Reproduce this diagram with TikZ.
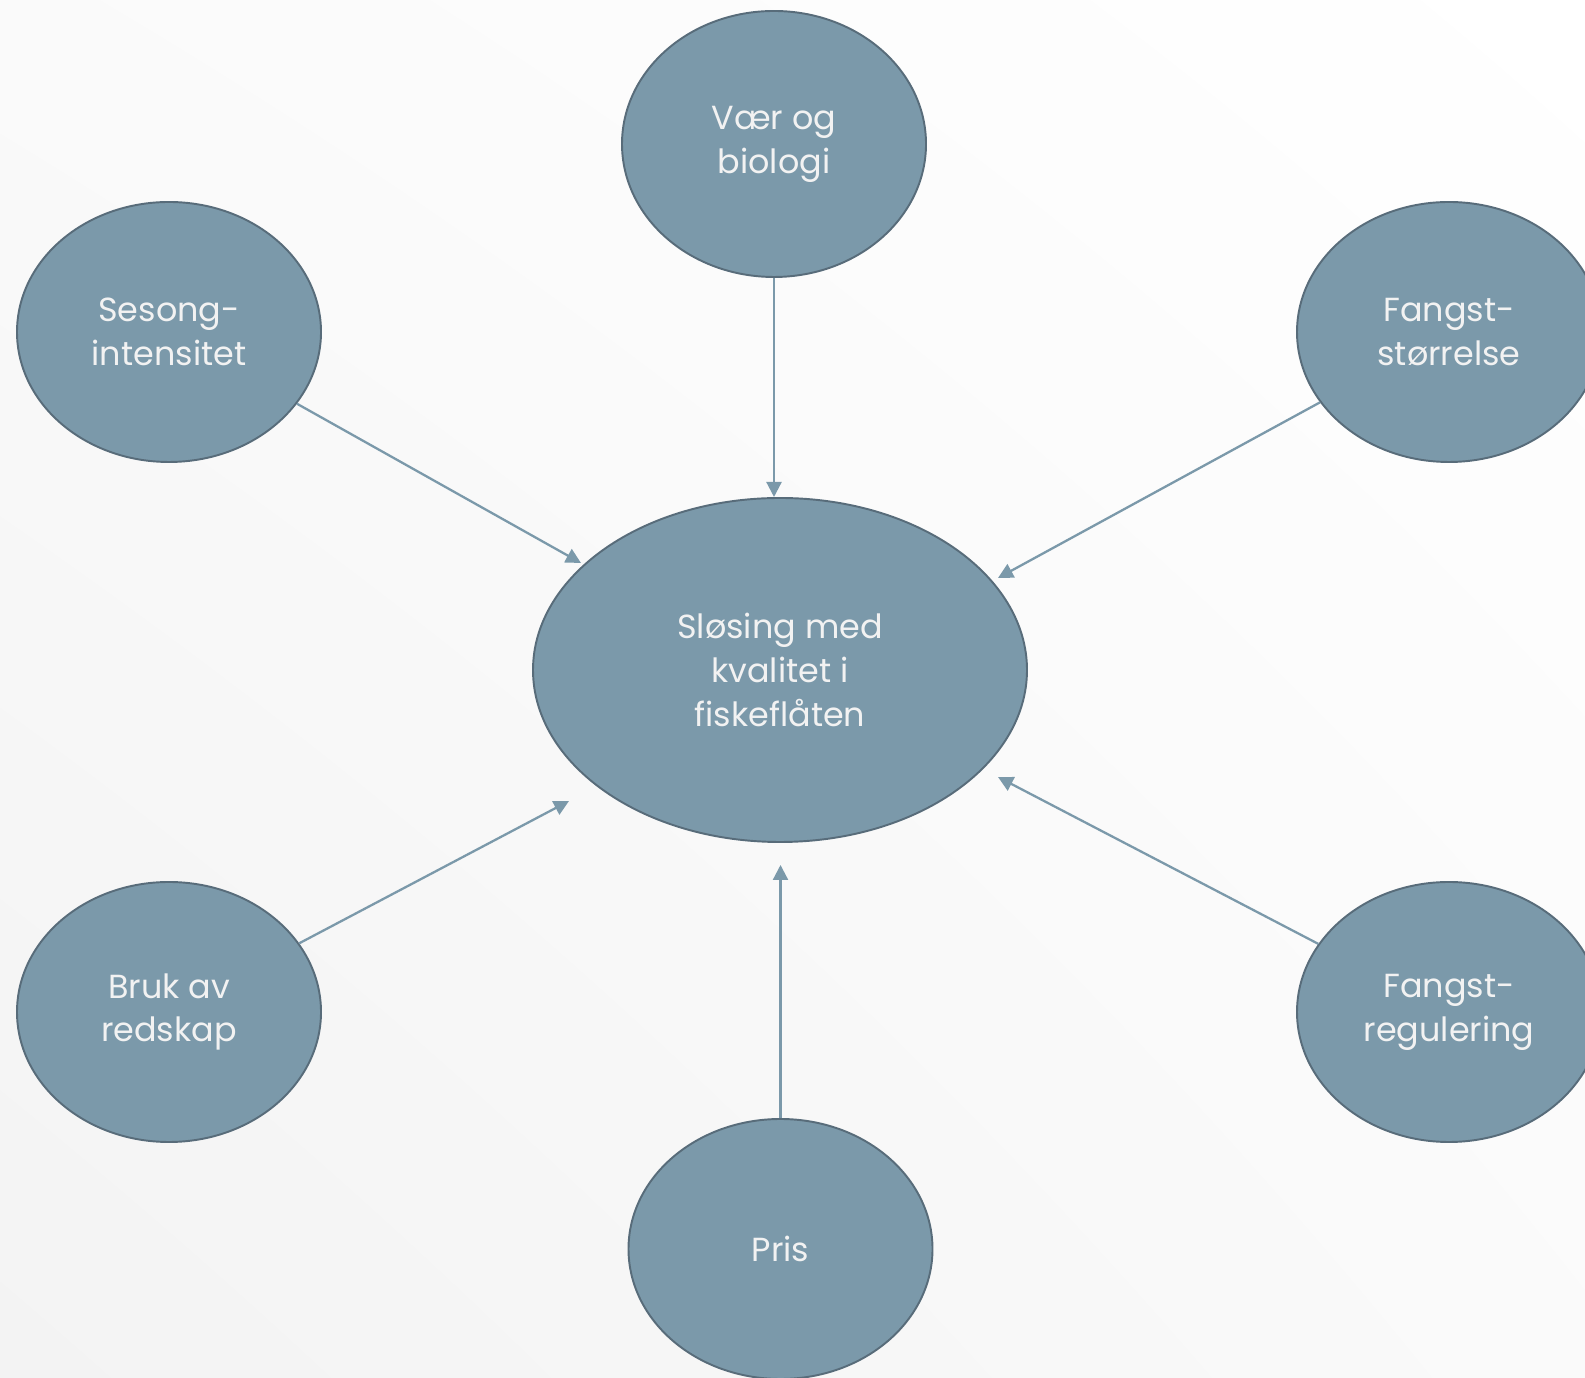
\documentclass[tikz,border=0pt]{standalone}
\usepackage{fontspec}
\setmainfont{Poppins}
\usetikzlibrary{arrows.meta,shapes.geometric,shadings}
\definecolor{bobfill}{RGB}{123,153,170}
\definecolor{bobline}{RGB}{88,108,122}
\definecolor{bgshade}{RGB}{243,243,243}
\begin{document}
\begin{tikzpicture}[
    bob/.style={ellipse, draw=bobline, line width=1.1pt, fill=bobfill, inner sep=0pt,
      minimum width=6.08cm, minimum height=5.2cm, text=white!95!black,
      align=center, font=\fontsize{19}{25}\selectfont},
    mainbob/.style={bob, minimum width=9.88cm, minimum height=6.88cm},
    arr/.style={draw=bobfill, line width=1.3pt, -{Triangle[length=0.3cm,width=0.3cm]}}
  ]
  \useasboundingbox (0,0) rectangle (31.7,27.54);
  \shade[lower left=bgshade, upper right=white, upper left=white!60!bgshade,
    lower right=white!60!bgshade] (0,0) rectangle (31.7,27.54);

  \node[mainbob] (tap) at (15.60,14.14) {Sløsing med\\kvalitet i\\fiskeflåten};
  \node[bob, minimum height=5.32cm] (vaer) at (15.48,24.66) {Vær og\\biologi};
  \node[bob] (sesong) at (3.38,20.90) {Sesong-\\intensitet};
  \node[bob] (fstor) at (28.98,20.90) {Fangst-\\størrelse};
  \node[bob] (bruk) at (3.38,7.30) {Bruk av\\redskap};
  \node[bob] (freg) at (28.98,7.30) {Fangst-\\regulering};
  \node[bob] (pris) at (15.61,2.56) {Pris};

  % arrow tips, just short of the centre
  \coordinate (tipVaer) at (15.48,17.60);
  \coordinate (tipSesong) at (11.62,16.28);
  \coordinate (tipFstor) at (19.96,15.98);
  \coordinate (tipBruk) at (11.38,11.52);
  \coordinate (tipFreg) at (19.96,12.00);
  \coordinate (tipPris) at (15.61,10.24);

  \draw[arr] (vaer) -- (tipVaer);
  \draw[arr] (sesong) -- (tipSesong);
  \draw[arr] (fstor) -- (tipFstor);
  \draw[arr] (bruk) -- (tipBruk);
  \draw[arr] (freg) -- (tipFreg);
  \draw[arr] (pris) -- (tipPris);
\end{tikzpicture}
\end{document}
